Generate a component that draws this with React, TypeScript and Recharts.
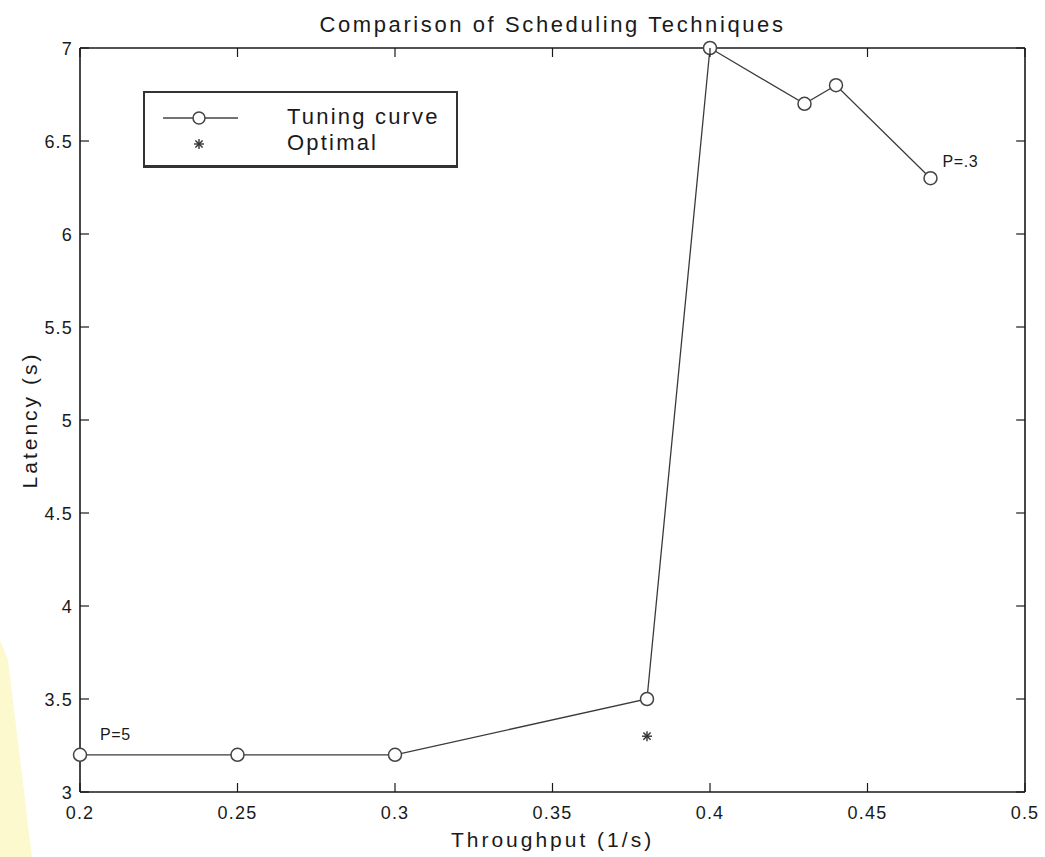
import { ScatterChart, Scatter, XAxis, YAxis, Legend, Label } from 'recharts';

// tuning curve samples (throughput in 1/s, latency in s)
const throughput = [0.2, 0.25, 0.3, 0.38, 0.4, 0.43, 0.44, 0.47];
const latency = [3.2, 3.2, 3.2, 3.5, 7, 6.7, 6.8, 6.3];
const pointNotes = ['P=5', '', '', '', '', '', '', 'P=.3'];

const optimalThroughput = [0.38];
const optimalLatency = [3.3];

const seriesNames = ['Tuning curve', 'Optimal'];

const xTicks = [0.2, 0.25, 0.3, 0.35, 0.4, 0.45, 0.5];
const yTicks = [3, 3.5, 4, 4.5, 5, 5.5, 6, 6.5, 7];

const tuningData = throughput.map((x, i) => ({ x, y: latency[i], note: pointNotes[i] }));
const optimalData = optimalThroughput.map((x, i) => ({ x, y: optimalLatency[i] }));

const FONT = '"Liberation Sans", Arial, Helvetica, sans-serif';
const INK = '#1a1a1a';
const TICK_LEN = 9;

const noteOffset: Record<string, [number, number]> = {
  'P=5': [20, -15],
  'P=.3': [12, -11],
};

const BottomTick = ({ x, y, payload }: any) => (
  <g>
    <line x1={x} y1={y} x2={x} y2={y - TICK_LEN} stroke={INK} strokeWidth={1.2} />
    <text x={x} y={y + 27} textAnchor="middle" fontFamily={FONT} fontSize={18} letterSpacing={1.2} fill={INK}>
      {String(payload.value)}
    </text>
  </g>
);

const LeftTick = ({ x, y, payload }: any) => (
  <g>
    <line x1={x} y1={y} x2={x + TICK_LEN} y2={y} stroke={INK} strokeWidth={1.2} />
    <text x={x - 7} y={y + 7} textAnchor="end" fontFamily={FONT} fontSize={18} letterSpacing={1.2} fill={INK}>
      {String(payload.value)}
    </text>
  </g>
);

const TopTick = ({ x, y }: any) => (
  <line x1={x} y1={y} x2={x} y2={y + TICK_LEN} stroke={INK} strokeWidth={1.2} />
);

const RightTick = ({ x, y }: any) => (
  <line x1={x} y1={y} x2={x - TICK_LEN} y2={y} stroke={INK} strokeWidth={1.2} />
);

const CircleMark = (props: any) => {
  const { cx, cy, payload } = props;
  const note = payload?.note;
  const off = note ? noteOffset[note] || [12, -12] : null;
  return (
    <g>
      <circle cx={cx} cy={cy} r={6.5} fill="#fff" stroke="#444" strokeWidth={1.5} />
      {note && off && (
        <text x={cx + off[0]} y={cy + off[1]} fontFamily={FONT} fontSize={16} letterSpacing={0.6} fill={INK}>
          {note}
        </text>
      )}
    </g>
  );
};

const StarMark = ({ cx, cy }: any) => {
  const r = 5;
  const d = r * 0.72;
  return (
    <g stroke="#333" strokeWidth={1.4}>
      <line x1={cx} y1={cy - r} x2={cx} y2={cy + r} />
      <line x1={cx - r} y1={cy} x2={cx + r} y2={cy} />
      <line x1={cx - d} y1={cy - d} x2={cx + d} y2={cy + d} />
      <line x1={cx - d} y1={cy + d} x2={cx + d} y2={cy - d} />
    </g>
  );
};

const renderLegend = ({ payload }: any) => {
  const items = [...(payload || [])].sort(
    (a: any, b: any) => seriesNames.indexOf(a.value) - seriesNames.indexOf(b.value)
  );
  return (
    <div
      style={{
        width: 315,
        height: 77,
        boxSizing: 'border-box',
        border: '2px solid #333',
        borderBottomWidth: 3,
        background: '#fff',
        position: 'relative',
        fontFamily: FONT,
      }}
    >
      {items.map((item: any, i: number) => (
        <div key={item.value} style={{ position: 'absolute', left: 0, top: 12 + i * 26, height: 26, width: '100%' }}>
          <svg width={120} height={26} style={{ position: 'absolute', left: 0, top: 0 }}>
            {item.value === seriesNames[0] ? (
              <g>
                <line x1={18} y1={13} x2={93} y2={13} stroke="#444" strokeWidth={1.3} />
                <circle cx={54} cy={13} r={6} fill="#fff" stroke="#444" strokeWidth={1.5} />
              </g>
            ) : (
              <StarMark cx={54} cy={13} />
            )}
          </svg>
          <span
            style={{
              position: 'absolute',
              left: 142,
              top: -1,
              fontSize: 22,
              letterSpacing: 2.2,
              lineHeight: '26px',
              color: INK,
              whiteSpace: 'nowrap',
            }}
          >
            {item.value}
          </span>
        </div>
      ))}
    </div>
  );
};

export default function App() {
  return (
    <div style={{ position: 'absolute', left: 0, top: 0, width: 1045, height: 857, background: '#fff', overflow: 'hidden' }}>
      <div
        style={{
          position: 'absolute',
          left: 0,
          top: 0,
          width: 1045,
          height: 857,
          background: '#fcf9cf',
          clipPath: 'polygon(0px 640px, 8px 660px, 32px 857px, 0px 857px)',
        }}
      />
      <ScatterChart width={1045} height={857} margin={{ top: 47, right: 19, bottom: 0, left: 0 }} style={{ position: 'absolute', left: 0, top: 0 }}>
        <XAxis
          xAxisId="b"
          type="number"
          dataKey="x"
          domain={[0.2, 0.5]}
          ticks={xTicks}
          interval={0}
          height={65}
          tickSize={0}
          tickMargin={0}
          tickLine={false}
          tick={BottomTick}
          axisLine={{ stroke: INK, strokeWidth: 1.6 }}
        >
          <Label
            value="Throughput (1/s)"
            position="insideBottom"
            offset={10}
            fontFamily={FONT}
            fontSize={21}
            letterSpacing={3}
            fill={INK}
          />
        </XAxis>
        <XAxis
          xAxisId="t"
          orientation="top"
          type="number"
          dataKey="x"
          domain={[0.2, 0.5]}
          ticks={xTicks}
          interval={0}
          height={1}
          tickSize={0}
          tickMargin={0}
          tickLine={false}
          tick={TopTick}
          axisLine={{ stroke: INK, strokeWidth: 1.6 }}
        >
          <Label
            value="Comparison of Scheduling Techniques"
            position="top"
            offset={15}
            fontFamily={FONT}
            fontSize={22}
            letterSpacing={2.6}
            fill={INK}
          />
        </XAxis>
        <YAxis
          yAxisId="l"
          type="number"
          dataKey="y"
          domain={[3, 7]}
          ticks={yTicks}
          interval={0}
          width={80}
          tickSize={0}
          tickMargin={0}
          tickLine={false}
          tick={LeftTick}
          axisLine={{ stroke: INK, strokeWidth: 1.6 }}
        >
          <Label
            value="Latency (s)"
            angle={-90}
            position="insideLeft"
            offset={30}
            fontFamily={FONT}
            fontSize={21}
            letterSpacing={3}
            fill={INK}
            style={{ textAnchor: 'middle' }}
          />
        </YAxis>
        <YAxis
          yAxisId="r"
          orientation="right"
          type="number"
          dataKey="y"
          domain={[3, 7]}
          ticks={yTicks}
          interval={0}
          width={1}
          tickSize={0}
          tickMargin={0}
          tickLine={false}
          tick={RightTick}
          axisLine={{ stroke: INK, strokeWidth: 1.6 }}
        />
        <Legend
          layout="vertical"
          align="center"
          verticalAlign="middle"
          content={renderLegend}
          wrapperStyle={{ left: 143, top: 91, width: 315, height: 77 }}
        />
        <Scatter
          name={seriesNames[0]}
          data={tuningData}
          xAxisId="b"
          yAxisId="l"
          line={{ stroke: '#3a3a3a', strokeWidth: 1.3 }}
          lineType="joint"
          shape={CircleMark}
          isAnimationActive={false}
        />
        {/* same domains as the bottom/left axes; attached to the mirrored axes so they draw */}
        <Scatter
          name={seriesNames[1]}
          data={optimalData}
          xAxisId="t"
          yAxisId="r"
          shape={StarMark}
          isAnimationActive={false}
        />
      </ScatterChart>
    </div>
  );
}
